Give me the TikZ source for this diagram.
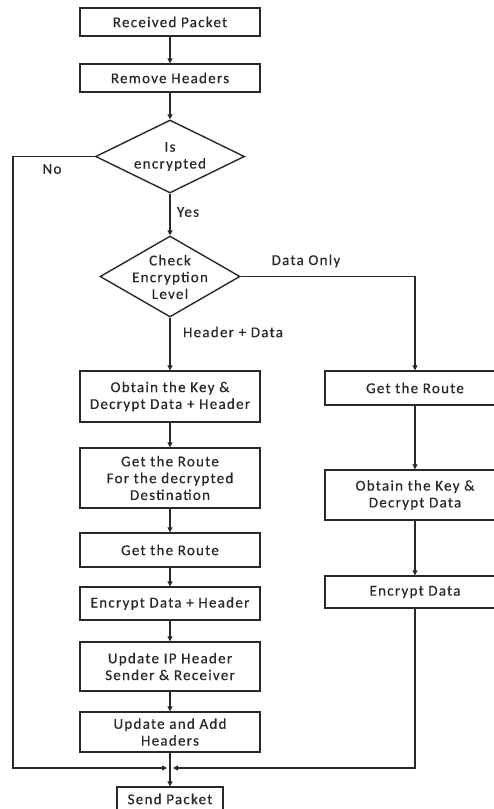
\documentclass[tikz,border=0pt]{standalone}
\usepackage{fontspec}
\setmainfont{Carlito}[LetterSpace=8.5,FakeBold=0.4]
\usetikzlibrary{shapes.geometric,arrows.meta}
\definecolor{ink}{RGB}{40,40,40}
\tikzset{
  box/.style={draw=ink, line width=1.4pt, rectangle, minimum width=180pt, inner sep=0pt, align=center, text=ink, font=\fontsize{15}{16.8}\selectfont},
  dia/.style={draw=ink, line width=1.4pt, diamond, inner sep=0pt},
  txt/.style={text=ink, align=center, font=\fontsize{15}{16.8}\selectfont, inner sep=0pt},
  conn/.style={draw=ink, line width=1.2pt, -{Triangle[length=5pt,width=5pt]}},
}
\begin{document}
\begin{tikzpicture}[x=1pt,y=-1pt]
\useasboundingbox (0,0) rectangle (494,809);
\clip (0,0) rectangle (494,809);
\fill[white] (0,0) rectangle (494,809);
% left column
\node[box, minimum height=28pt] (rp) at (170,22) {Received Packet};
\node[box, minimum height=28pt] (rh) at (170,78) {Remove Headers};
\node[dia, minimum width=149pt, minimum height=73pt] (d1) at (170,156.5) {};
\node[txt] (d1t) at (170,156.5) {Is\\encrypted};
\node[dia, minimum width=140pt, minimum height=81pt] (d2) at (170,276.5) {};
\node[txt] (d2t) at (170,277) {Check\\Encryption\\Level};
\node[box, minimum height=51pt] (ok) at (170,396.5) {Obtain the Key \&\\Decrypt Data + Header};
\node[box, minimum height=60pt] (gr1) at (170,478) {Get the Route\\For the decrypted\\Destination};
\node[box, minimum height=34pt] (gr2) at (170,550) {Get the Route};
\node[box, minimum height=33pt] (enc) at (170,603.5) {Encrypt Data + Header};
\node[box, minimum height=49pt] (upd) at (170,666.5) {Update IP Header\\Sender \& Receiver};
\node[box, minimum height=40pt] (add) at (170,732) {Update and Add\\Headers};
\node[box, minimum width=106pt, minimum height=24pt] (sp) at (170,799) {Send Packet};
% right column
\node[box, minimum height=34pt] (rg) at (415,388) {Get the Route};
\node[box, minimum height=50pt] (rok) at (415,495) {Obtain the Key \&\\Decrypt Data};
\node[box, minimum height=32pt] (renc) at (415,592) {Encrypt Data};
% labels
\node[txt] (lno) at (52,169) {No};
\node[txt] (lyes) at (188,212) {Yes};
\node[txt] (ldo) at (306,261) {Data Only};
\node[txt] (lhd) at (233,332) {Header + Data};
% coordinates
\coordinate (ml) at (167,768);
\coordinate (mr) at (173,768);
\coordinate (nl1) at (13,156.5);
\coordinate (nl2) at (13,768);
\coordinate (rt) at (415,276.5);
\coordinate (rb) at (415,768);
% connectors
\draw[conn] (rp) -- (rh);
\draw[conn] (rh) -- (d1);
\draw[conn] (d1) -- (d2);
\draw[conn] (d2) -- (ok);
\draw[conn] (ok) -- (gr1);
\draw[conn] (gr1) -- (gr2);
\draw[conn] (gr2) -- (enc);
\draw[conn] (enc) -- (upd);
\draw[conn] (upd) -- (add);
\draw[conn] (add) -- (sp);
\draw[conn] (d2.east) -- (rt) -- (rg);
\draw[conn] (rg) -- (rok);
\draw[conn] (rok) -- (renc);
\draw[conn] (d1.west) -- (nl1) -- (nl2) -- (ml);
\draw[conn] (renc.south) -- (rb) -- (mr);
\end{tikzpicture}
\end{document}
